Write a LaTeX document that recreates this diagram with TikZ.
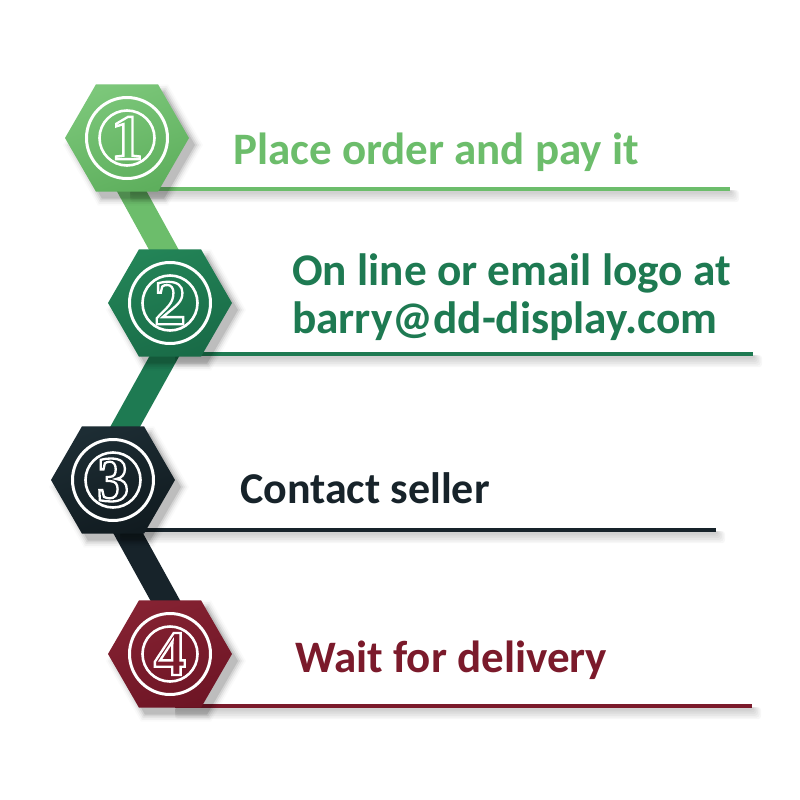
\documentclass[tikz,border=0pt]{standalone}
\usepackage{fontspec}
\setmainfont{Carlito}
\newfontfamily\digitfont{Liberation Serif Bold}[RawFeature={embolden=3.6}]
\usetikzlibrary{shapes.geometric,calc}
\definecolor{gA}{HTML}{6CBD6B}
\definecolor{gAl}{HTML}{7CC77A}
\definecolor{gAd}{HTML}{5EAF5D}
\definecolor{gB}{HTML}{1E7A52}
\definecolor{gBl}{HTML}{238457}
\definecolor{gBd}{HTML}{196B47}
\definecolor{gC}{HTML}{17232A}
\definecolor{gCl}{HTML}{1D2D34}
\definecolor{gCd}{HTML}{111B20}
\definecolor{gD}{HTML}{7B1A2B}
\definecolor{gDl}{HTML}{852232}
\definecolor{gDd}{HTML}{6E1525}
\newcommand\whitestroke{\special{pdf:literal direct 1 1 1 RG}}
\newcommand\myhexshadow[1]{%
  \begin{scope}[shift={($(#1)+(6,7)$)}]
    \foreach \k/\o in {0/0.10,2/0.07,4/0.05,6/0.035,8/0.02}{
      \fill[black,opacity=\o] (0:62+\k) -- (60:62+\k) -- (120:62+\k) -- (180:62+\k) -- (240:62+\k) -- (300:62+\k) -- cycle;
    }
  \end{scope}}
\newcommand\mylineshadow[3]{%
  \foreach \k in {1,...,6}{
    \fill[black,opacity=0.03,rounded corners=3pt] (#1,#3+1) rectangle (#2+1.5*\k,#3+3+1.7*\k);
  }}
\begin{document}
\begin{tikzpicture}[x=1pt,y=-1pt,
  hexbox/.style={regular polygon, regular polygon sides=6, minimum size=124pt, inner sep=0pt, outer sep=0pt},
  ringbig/.style={draw=white, line width=3pt},
  ringsmall/.style={draw=white, line width=2.6pt},
  digitnode/.style={inner sep=0pt, font=\digitfont\fontsize{64}{64}\selectfont},
  band/.style={line width=26pt},
  rule/.style={line width=4pt},
  label/.style={anchor=base west, inner sep=0pt, font=\bfseries}]
\useasboundingbox (0,0) rectangle (800,800);
\fill[white] (0,0) rectangle (800,800);

% centres
\coordinate (c1) at (127,138);
\coordinate (c2) at (170,303);
\coordinate (c3) at (113,480);
\coordinate (c4) at (170,654);

% bands
\coordinate (b1s) at (120,170); \coordinate (b1e) at (175,270);
\coordinate (b2s) at (180,328); \coordinate (b2e) at (110,454);
\coordinate (b3s) at (112,504); \coordinate (b3e) at (181,629);
\draw[band, draw=gA] (b1s) -- (b1e);
\draw[band, draw=gB] (b2s) -- (b2e);
\draw[band, draw=gC] (b3s) -- (b3e);

% rules with shadows
\coordinate (l1s) at (130,189); \coordinate (l1e) at (730,189);
\coordinate (l2s) at (175,354); \coordinate (l2e) at (753,354);
\coordinate (l3s) at (120,530); \coordinate (l3e) at (716,530);
\coordinate (l4s) at (175,706); \coordinate (l4e) at (752,706);
\mylineshadow{130}{730}{189}
\mylineshadow{175}{753}{354}
\mylineshadow{120}{716}{530}
\mylineshadow{175}{752}{706}
\draw[rule, draw=gA] (l1s) -- (l1e);
\draw[rule, draw=gB] (l2s) -- (l2e);
\draw[rule, draw=gC] (l3s) -- (l3e);
\draw[rule, draw=gD] (l4s) -- (l4e);

% hexagons
\myhexshadow{c1}
\myhexshadow{c2}
\myhexshadow{c3}
\myhexshadow{c4}
\node[hexbox, top color=gAl, bottom color=gAd, shading angle=20] (h1) at (c1) {};
\node[hexbox, top color=gBl, bottom color=gBd, shading angle=20] (h2) at (c2) {};
\node[hexbox, top color=gCl, bottom color=gCd, shading angle=20] (h3) at (c3) {};
\node[hexbox, top color=gDl, bottom color=gDd, shading angle=20] (h4) at (c4) {};

% rings
\foreach \c in {c1,c2,c3,c4}{
  \draw[ringbig] (\c) circle[radius=40.5];
  \draw[ringsmall] (\c) circle[radius=27.5];
}

% digits
\node[digitnode, text=gA] (d1) at (c1) {\whitestroke 1};
\node[digitnode, text=gB] (d2) at (c2) {\whitestroke 2};
\node[digitnode, text=gC] (d3) at (c3) {\whitestroke 3};
\node[digitnode, text=gD] (d4) at (c4) {\whitestroke 4};

% labels
\node[label, text=gA, font=\bfseries\fontsize{45}{45}\selectfont] (t1) at (233,164) {Place order and pay it};
\node[label, text=gB, font=\bfseries\fontsize{45.3}{45}\selectfont] (t2a) at (292,285) {On line or email logo at};
\node[label, text=gB, font=\bfseries\fontsize{45.3}{45}\selectfont] (t2b) at (292,333) {barry@dd-display.com};
\node[label, text=gC, font=\bfseries\fontsize{44}{44}\selectfont] (t3) at (240,503) {Contact seller};
\node[label, text=gD, font=\bfseries\fontsize{45}{45}\selectfont] (t4) at (295,672) {Wait for delivery};
\end{tikzpicture}
\end{document}
